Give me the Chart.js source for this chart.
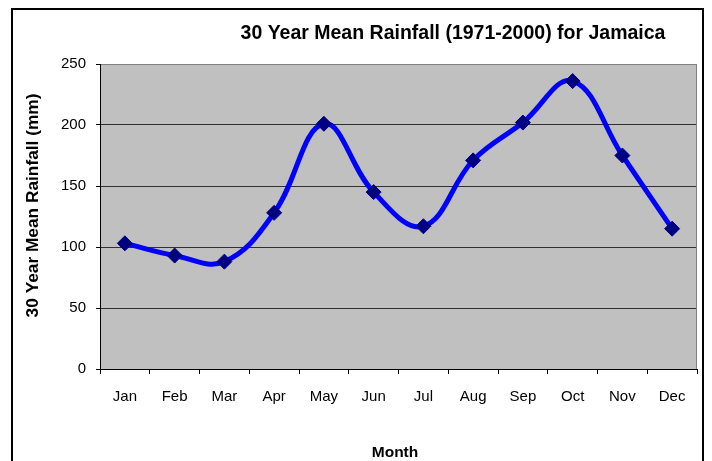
<!DOCTYPE html>
<html>
<head>
<meta charset="utf-8">
<script src="https://cdn.jsdelivr.net/npm/chart.js@4/dist/chart.umd.min.js"></script>
<style>
  html, body { margin: 0; padding: 0; background: #fff; overflow: hidden; }
  #wrap { position: relative; width: 712px; height: 461px; }
  #frame { position: absolute; left: 11px; top: 8px; width: 693px; height: 470px;
           border: 2px solid #000; box-sizing: border-box; pointer-events: none; }
</style>
</head>
<body>
<div id="wrap">
  <canvas id="c" width="712" height="461"></canvas>
  <div id="frame"></div>
</div>
<script>
const months = ["Jan","Feb","Mar","Apr","May","Jun","Jul","Aug","Sep","Oct","Nov","Dec"];
const rainfall = [103, 93, 88, 128, 201, 145, 117, 171, 202, 236, 175, 115];
const yTicks = [0, 50, 100, 150, 200, 250];
const chartTitle = "30 Year Mean Rainfall (1971-2000) for Jamaica";
const yTitle = "30 Year Mean Rainfall (mm)";
const xTitle = "Month";

const FONT = "'Liberation Sans', Arial, sans-serif";

const decor = {
  id: 'decor',
  beforeDraw(chart) {
    const {ctx, chartArea: a} = chart;
    ctx.save();
    ctx.fillStyle = '#C0C0C0';
    ctx.fillRect(a.left, a.top, a.right - a.left, a.bottom - a.top);
    ctx.restore();
  },
  afterDraw(chart) {
    const {ctx, chartArea: a} = chart;
    ctx.save();
    ctx.strokeStyle = '#808080';
    ctx.lineWidth = 1;
    ctx.beginPath();
    ctx.moveTo(a.right - 0.5, a.top);
    ctx.lineTo(a.right - 0.5, a.bottom);
    ctx.stroke();
    ctx.fillStyle = '#000';
    ctx.textAlign = 'center';
    ctx.textBaseline = 'middle';
    ctx.font = "bold 19.5px " + FONT;
    ctx.fillText(chartTitle, 453, 34);
    ctx.font = "bold 15.5px " + FONT;
    ctx.fillText(xTitle, 395, 453);
    ctx.translate(33, 205.5);
    ctx.rotate(-Math.PI / 2);
    ctx.font = "bold 17.3px " + FONT;
    ctx.fillText(yTitle, 0, 0);
    ctx.restore();
  }
};

new Chart(document.getElementById('c'), {
  type: 'line',
  data: {
    labels: months,
    datasets: [{
      data: rainfall,
      borderColor: '#0000FF',
      borderWidth: 5,
      tension: 0.4,
      fill: false,
      pointStyle: 'rectRot',
      pointRadius: 7.5,
      pointBackgroundColor: '#000080',
      pointBorderColor: '#000080',
      pointBorderWidth: 1,
      clip: false
    }]
  },
  options: {
    responsive: false,
    animation: false,
    devicePixelRatio: 1,
    layout: { padding: { top: 64, right: 15, left: 0, bottom: 0 } },
    plugins: { legend: { display: false }, title: { display: false }, tooltip: { enabled: false } },
    scales: {
      x: {
        type: 'category',
        offset: true,
        afterFit(s) { s.height = 92; },
        grid: { offset: true, drawOnChartArea: false, drawTicks: true, tickLength: 5, tickColor: '#000', tickWidth: 1 },
        border: { display: true, color: '#000', width: 1 },
        ticks: { color: '#000', font: { family: FONT, size: 15 }, padding: 14, maxRotation: 0, autoSkip: false }
      },
      y: {
        min: 0, max: 250,
        afterFit(s) { s.width = 100; },
        afterBuildTicks(s) { s.ticks = yTicks.map(v => ({ value: v })); },
        grid: {
          color: (c) => (c.tick && c.tick.value === 250) ? '#808080' : '#303030',
          lineWidth: 1,
          drawTicks: true, tickLength: 4, tickColor: '#000'
        },
        border: { display: true, color: '#000', width: 1 },
        ticks: { color: '#000', font: { family: FONT, size: 15 }, padding: 10 }
      }
    }
  },
  plugins: [decor]
});
</script>
</body>
</html>
